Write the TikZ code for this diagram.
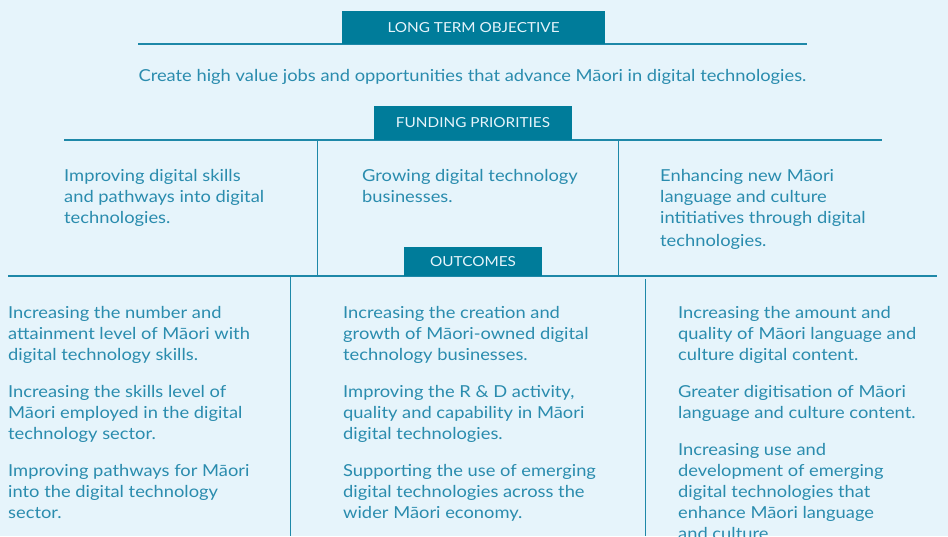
\documentclass[tikz,border=0pt]{standalone}
\usepackage{fontspec}
\setmainfont[FakeStretch=1.11]{Lato}
\usepackage{tikz}
\definecolor{bg}{HTML}{E6F4FB}
\definecolor{barblue}{HTML}{007C9A}
\definecolor{inkblue}{HTML}{2A8CAE}
\definecolor{ruleblue}{HTML}{1E88A8}
\tikzset{
  bar/.style={fill=barblue, text=bg, inner sep=0pt, font=\fontsize{13.8}{16}\selectfont},
  para/.style={anchor=north west, align=left, inner sep=0pt, text=inkblue, font=\fontsize{16.5}{21}\selectfont},
  rule/.style={draw=ruleblue, line width=1.2pt},
  thinrule/.style={draw=ruleblue, line width=1pt}
}
\begin{document}
\begin{tikzpicture}[x=1pt, y=-1pt]
\useasboundingbox (0, 0) rectangle (948, 536);
\clip (0, 0) rectangle (948, 536);
\fill[bg] (0, 0) rectangle (948, 536);
\draw[rule] (138, 44) -- (807, 44);
\draw[rule] (64, 140) -- (882, 140);
\draw[thinrule] (317, 140) -- (317, 276);
\draw[thinrule] (618, 140) -- (618, 276);
\draw[rule] (8, 276) -- (937, 276);
\draw[thinrule] (290, 276) -- (290, 536);
\draw[thinrule] (645, 279) -- (645, 536);
\node[bar, minimum width=263pt, minimum height=33pt] (objbar) at (473.5, 27.5) {LONG TERM OBJECTIVE};
\node[bar, minimum width=198pt, minimum height=34pt] (fundbar) at (473, 123) {FUNDING PRIORITIES};
\node[bar, minimum width=138pt, minimum height=29pt] (outbar) at (473, 261.5) {OUTCOMES};
\node[para, anchor=base] (objtext) at (472.5, 81) {Create high value jobs and opportunities that advance Māori in digital technologies.};
\node[para] (fund1) at (64, 169) {Improving digital skills\\and pathways into digital\\technologies.};
\node[para] (fund2) at (362, 169) {Growing digital technology\\businesses.};
\node[para] (fund3) at (660, 169) {Enhancing new Māori\\language and culture\\intitiatives through digital\\[2pt]technologies.};
\node[para] (skill1) at (8, 306) {Increasing the number and\\attainment level of Māori with\\digital technology skills.};
\node[para] (skill2) at (8, 385) {Increasing the skills level of\\Māori employed in the digital\\technology sector.};
\node[para] (skill3) at (8, 464) {Improving pathways for Māori\\into the digital technology\\sector.};
\node[para] (biz1) at (343, 306) {Increasing the creation and\\growth of Māori-owned digital\\technology businesses.};
\node[para] (biz2) at (343, 385) {Improving the R \& D activity,\\quality and capability in Māori\\digital technologies.};
\node[para] (biz3) at (343, 464) {Supporting the use of emerging\\digital technologies across the\\wider Māori economy.};
\node[para] (lang1) at (678, 306) {Increasing the amount and\\quality of Māori language and\\culture digital content.};
\node[para] (lang2) at (678, 385) {Greater digitisation of Māori\\language and culture content.};
\node[para] (lang3) at (678, 443) {Increasing use and\\development of emerging\\digital technologies that\\enhance Māori language\\and culture.};
\end{tikzpicture}
\end{document}
